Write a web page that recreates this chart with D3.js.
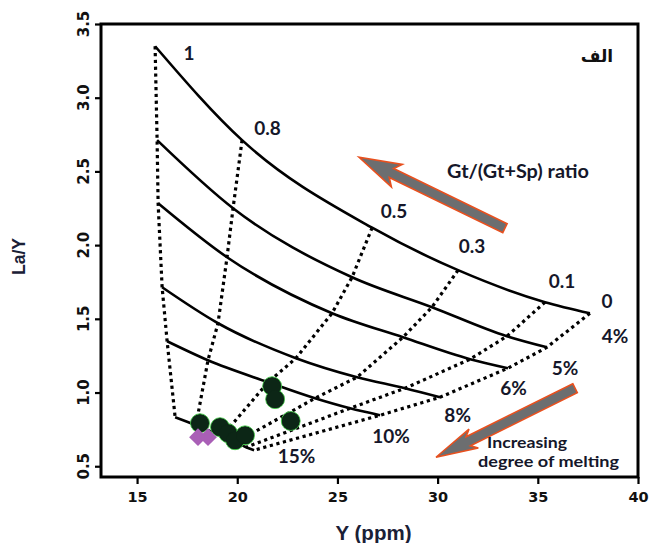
<!DOCTYPE html>
<html>
<head>
<meta charset="utf-8">
<script src="https://cdn.jsdelivr.net/npm/d3@7"></script>
<style>
  body { margin: 0; background: #fff; }
  svg { display: block; }
</style>
</head>
<body>
<svg id="chart" width="652" height="543"></svg>
<script>
// ---- Melting model grid: one row per degree of melting, one column per Gt/(Gt+Sp) ratio ----
const meltingDegrees = ["4%", "5%", "6%", "8%", "10%", "15%"];
const gtRatios = ["1", "0.8", "0.5", "0.3", "0.1", "0"];

// Y (ppm) of each model node
const modelY = [
  [15.90, 20.24, 26.73, 31.02, 35.36, 37.60],
  [16.00, 19.79, 25.73, 29.72, 33.46, 35.46],
  [16.05, 19.49, 24.73, 28.27, 31.62, 33.51],
  [16.25, 19.04, 22.93, 25.98, 28.37, 30.12],
  [16.50, 18.54, 21.54, 23.88, 25.63, 27.13],
  [16.90, 17.94, 19.24, 19.94, 20.44, 20.84]
];
// La/Y of each model node
const modelLaY = [
  [3.349, 2.712, 2.118, 1.830, 1.613, 1.538],
  [2.712, 2.250, 1.782, 1.579, 1.382, 1.307],
  [2.284, 1.918, 1.538, 1.375, 1.226, 1.165],
  [1.714, 1.470, 1.233, 1.104, 1.029, 0.968],
  [1.348, 1.219, 1.070, 0.961, 0.893, 0.846],
  [0.832, 0.778, 0.704, 0.663, 0.629, 0.609]
];

// Samples (dark green circles)
const sampleY   = [18.14, 19.14, 19.54, 19.89, 20.39, 21.74, 21.89, 22.67];
const sampleLaY = [0.792, 0.765, 0.724, 0.676, 0.710, 1.043, 0.955, 0.807];

// Reference samples (purple diamonds)
const refY   = [18.04, 18.54];
const refLaY = [0.697, 0.697];

// Axis ticks
const xTicks = [15, 20, 25, 30, 35, 40];
const yTicks = [0.5, 1.0, 1.5, 2.0, 2.5, 3.0, 3.5];

// ---- Scales ----
const x = d3.scaleLinear().domain([13.2, 40]).range([101, 638]);
const y = d3.scaleLinear().domain([0.427, 3.5]).range([477, 24]);

const svg = d3.select("#chart");
const labelFont = "Lato, 'Open Sans', sans-serif";
const tickFont = "'DejaVu Sans', sans-serif";
const titleFont = "'Liberation Sans', Arial, sans-serif";
const ink = "#15172a";

// ---- Grid: solid curves of constant melting, dotted lines of constant ratio ----
const nodes = meltingDegrees.map((m, i) => gtRatios.map((r, j) => [modelY[i][j], modelLaY[i][j]]));

const solid = d3.line().x(d => x(d[0])).y(d => y(d[1])).curve(d3.curveMonotoneX);
const dotted = d3.line().x(d => x(d[0])).y(d => y(d[1])).curve(d3.curveLinear);

const grid = svg.append("g");
grid.selectAll("path.melt")
  .data(nodes)
  .join("path")
  .attr("class", "melt")
  .attr("d", solid)
  .attr("fill", "none")
  .attr("stroke", "#000")
  .attr("stroke-width", 2.6)
  .attr("stroke-linejoin", "round");

const ratioLines = gtRatios.map((r, j) => meltingDegrees.map((m, i) => nodes[i][j]));
grid.selectAll("path.ratio")
  .data(ratioLines)
  .join("path")
  .attr("class", "ratio")
  .attr("d", dotted)
  .attr("fill", "none")
  .attr("stroke", "#000")
  .attr("stroke-width", 3.2)
  .attr("stroke-dasharray", "3.2,3.6");

// ---- Samples ----
const samples = sampleY.map((v, i) => [v, sampleLaY[i]]);
svg.append("g").selectAll("circle")
  .data(samples)
  .join("circle")
  .attr("cx", d => x(d[0]))
  .attr("cy", d => y(d[1]))
  .attr("r", 9.4)
  .attr("fill", "#0c2616")
  .attr("stroke", "#46c84a")
  .attr("stroke-width", 1);

// Overlapping circles merge into blobs: repaint fills over the outlines
svg.append("g").selectAll("circle")
  .data(samples)
  .join("circle")
  .attr("cx", d => x(d[0]))
  .attr("cy", d => y(d[1]))
  .attr("r", 8.8)
  .attr("fill", "#0c2616");

svg.append("g").selectAll("path")
  .data(refY.map((v, i) => [v, refLaY[i]]))
  .join("path")
  .attr("transform", d => `translate(${x(d[0])},${y(d[1])})`)
  .attr("d", d3.symbol().type(d3.symbolDiamond2).size(200))
  .attr("fill", "#a95fb6");

// ---- Frame and axes ----
const [x0, x1] = x.range();
const [yb, yt] = y.range();
svg.append("rect")
  .attr("x", x0).attr("y", yt)
  .attr("width", x1 - x0).attr("height", yb - yt)
  .attr("fill", "none")
  .attr("stroke", "#000")
  .attr("stroke-width", 3);

const xAxis = svg.append("g")
  .attr("transform", `translate(0,${yb})`)
  .call(d3.axisBottom(x).tickValues(xTicks).tickSize(7).tickPadding(8).tickFormat(d3.format("d")));
xAxis.select(".domain").remove();
xAxis.selectAll("line").attr("stroke-width", 2.2);
xAxis.selectAll("text")
  .attr("font-family", tickFont).attr("font-weight", "bold")
  .attr("font-size", 14.5).attr("fill", "#111");

const yAxis = svg.append("g")
  .attr("transform", `translate(${x0},0)`)
  .call(d3.axisLeft(y).tickValues(yTicks).tickSize(6).tickFormat(""));
yAxis.select(".domain").remove();
yAxis.selectAll("line").attr("stroke-width", 2.2);

svg.append("g").selectAll("text")
  .data(yTicks)
  .join("text")
  .attr("transform", d => `translate(${x0 - 12},${y(d)}) rotate(-90)`)
  .attr("text-anchor", "middle")
  .attr("font-family", tickFont).attr("font-weight", "bold")
  .attr("font-size", 15).attr("fill", "#111")
  .text(d => d3.format(".1f")(d));

svg.append("text")
  .attr("x", (x0 + x1) / 2 + 4).attr("y", 540)
  .attr("text-anchor", "middle")
  .attr("font-family", titleFont).attr("font-weight", "bold")
  .attr("font-size", 20.5).attr("fill", "#1a2036")
  .text("Y (ppm)");

svg.append("text")
  .attr("transform", `translate(25,${(yb + yt) / 2 + 6}) rotate(-90)`)
  .attr("text-anchor", "middle")
  .attr("font-family", titleFont).attr("font-weight", "bold")
  .attr("font-size", 17.5).attr("fill", "#1a2036")
  .text("La/Y");

// ---- Grid labels (anchored in data units) ----
const ratioLabelAt = [[17.59, 3.254], [21.51, 2.746], [27.82, 2.183], [31.72, 1.945], [36.21, 1.708], [38.45, 1.572]];
const meltLabelAt  = [[38.85, 1.334], [36.36, 1.117], [33.79, 0.982], [31.00, 0.799], [27.67, 0.656], [22.96, 0.520]];

const gridLabels = gtRatios.map((t, i) => ({ t, p: ratioLabelAt[i] }))
  .concat(meltingDegrees.map((t, i) => ({ t, p: meltLabelAt[i] })));

svg.append("g").selectAll("text")
  .data(gridLabels)
  .join("text")
  .attr("x", d => x(d.p[0]))
  .attr("y", d => y(d.p[1]))
  .attr("text-anchor", "middle")
  .attr("font-family", labelFont).attr("font-weight", "bold")
  .attr("font-size", 19).attr("fill", ink)
  .text(d => d.t);

// ---- Trend arrows ----
function arrowPath(tail, tip, shaftHalf, headHalf, headLen) {
  const ax = x(tail[0]), ay = y(tail[1]), bx = x(tip[0]), by = y(tip[1]);
  const dx = bx - ax, dy = by - ay, len = Math.hypot(dx, dy);
  const ux = dx / len, uy = dy / len, nx = -uy, ny = ux;
  const hx = bx - ux * headLen, hy = by - uy * headLen;
  const bx2 = hx - ux * 6, by2 = hy - uy * 6; // swept-back barbs
  const pts = [
    [ax + nx * shaftHalf, ay + ny * shaftHalf],
    [hx + nx * shaftHalf, hy + ny * shaftHalf],
    [bx2 + nx * headHalf, by2 + ny * headHalf],
    [bx, by],
    [bx2 - nx * headHalf, by2 - ny * headHalf],
    [hx - nx * shaftHalf, hy - ny * shaftHalf],
    [ax - nx * shaftHalf, ay - ny * shaftHalf]
  ];
  return "M" + pts.map(p => p.join(",")).join("L") + "Z";
}

const arrows = [
  { tail: [33.36, 2.115], tip: [26.08, 2.596], shaft: 5, head: 12.5, len: 36 },
  { tail: [36.86, 1.029], tip: [29.92, 0.561], shaft: 5, head: 10.5, len: 36 }
];
svg.append("g").selectAll("path")
  .data(arrows)
  .join("path")
  .attr("d", d => arrowPath(d.tail, d.tip, d.shaft, d.head, d.len))
  .attr("fill", "#6c6e70")
  .attr("stroke", "#e8501e")
  .attr("stroke-width", 1.6)
  .attr("stroke-linejoin", "miter");

const notes = [
  { t: "Gt/(Gt+Sp) ratio", p: [30.47, 2.454], w: 142, s: 18 },
  { t: "Increasing", p: [32.47, 0.626], w: 80, s: 15.5 },
  { t: "degree of melting", p: [32.02, 0.493], w: 141, s: 16 }
];
svg.append("g").selectAll("text")
  .data(notes)
  .join("text")
  .attr("x", d => x(d.p[0]))
  .attr("y", d => y(d.p[1]))
  .attr("font-family", labelFont).attr("font-weight", "bold")
  .attr("font-size", d => d.s).attr("fill", ink)
  .attr("textLength", d => d.w)
  .attr("lengthAdjust", "spacingAndGlyphs")
  .text(d => d.t);

// Panel letter
svg.append("text")
  .attr("x", x(37.95)).attr("y", y(3.241))
  .attr("text-anchor", "middle")
  .attr("font-family", "'DejaVu Sans', sans-serif").attr("font-weight", "bold")
  .attr("font-size", 17).attr("fill", "#111")
  .text("الف");
</script>
</body>
</html>
